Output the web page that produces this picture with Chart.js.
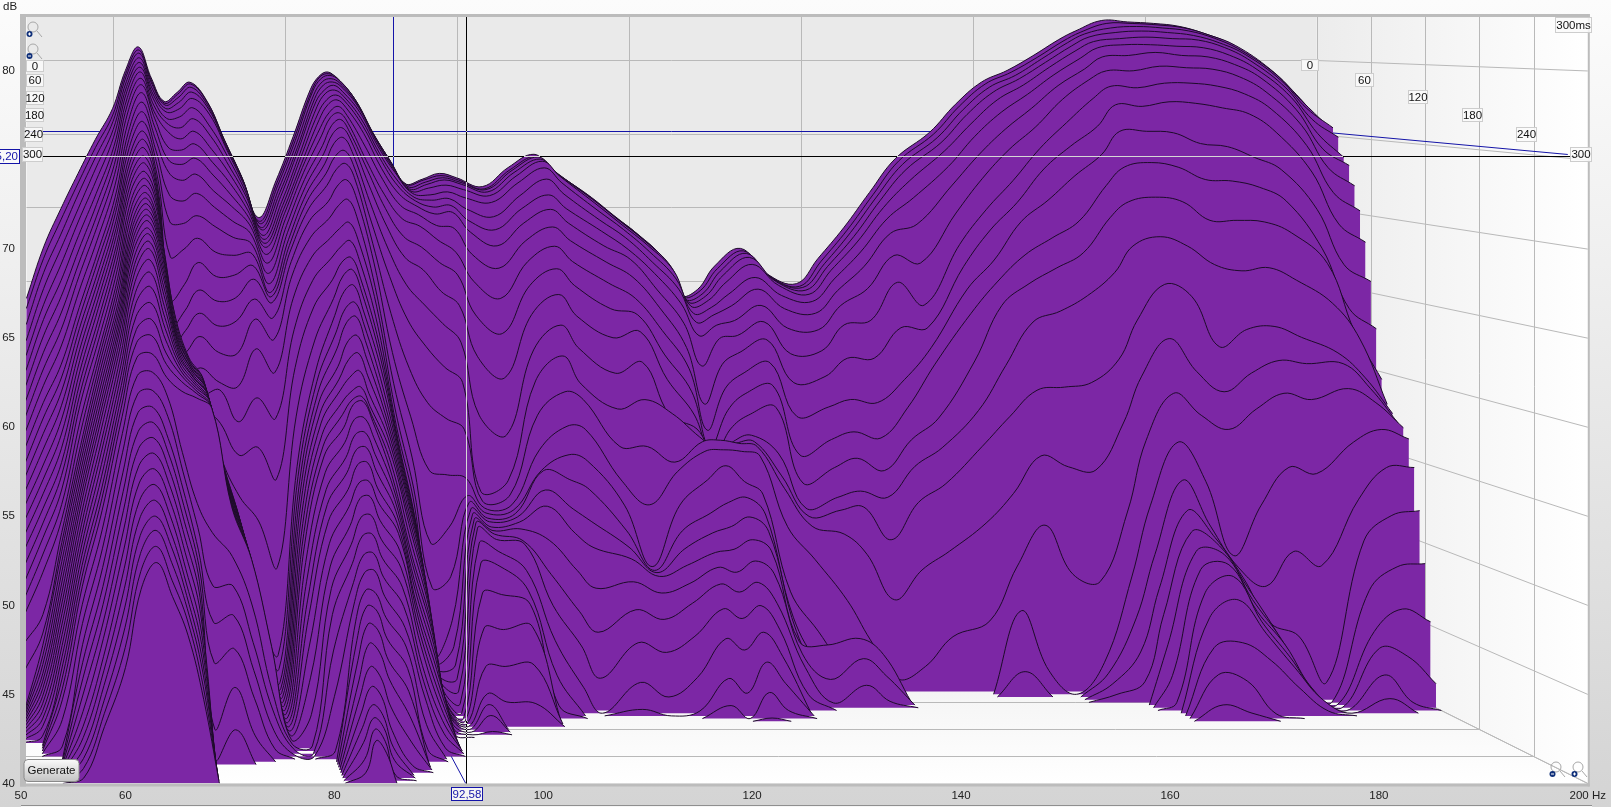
<!DOCTYPE html>
<html>
<head>
<meta charset="utf-8">
<title>Waterfall</title>
<script src="https://cdn.jsdelivr.net/npm/chart.js@4/dist/chart.umd.min.js"></script>
<style>
  html, body { margin: 0; padding: 0; overflow: hidden; background: linear-gradient(#fcfcfc, #d4d4d4); }
  canvas { display: block; }
</style>
</head>
<body>
<canvas id="chart" width="1611" height="807"></canvas>
<script>
// Frequency bands (Hz), each band has one dB value per time slice (slice 0 = 0 ms, 6 ms apart).
// A band's list stops at the slice where it has dropped to the 40 dB floor.
const bandHz = [50,52,54,56,58,60,61.5,63,64.5,66,67.5,69,71,73,75,77,79,81,83,84,85,86,88,90,92,94,96,98,100,103,106,109,111,115,118,121,124,126,128,130,133,136,139.5,142,145,148,151,155,158,161,164,167,170,172,175,178,181,184,187,190,194,197,200];
const timeStepMs = 6;
const sliceCount = 51;

const db50 = [63.8,63.2,62.2,61.2,60.3,59.4,58.5,57.6,56.7,55.8,54.9,54,53.2,52.4,51.6,50.8,50,49.2,48.3,47.4,46.5,45.6,44,42.4];
const db52 = [67.3,66.6,65.7,64.7,63.7,62.8,61.8,60.8,59.8,58.8,57.8,56.9,56,55.1,54.2,53.4,52.6,51.8,51,50.2,49.3,48.3,45.8,44.8,44.2,43.7,43.3,42.9,42.6,42.3,42,41.7,41.4,41.1,40.8,40.4];
const db54 = [69.9,69.2,68.3,67.4,66.4,65.4,64.4,63.4,62.4,61.4,60.3,59.5,58.7,57.9,57.1,56.3,55.5,54.7,54,53.2,52.4,51.6,50.9,50.4,50,49.5,49,48.5,48,47.5,47,46.5,46,45.5,45,44.5,44,43.5,43,42,40.6];
const db56 = [72.3,71.7,71,70.1,69.3,68.4,67.5,66.7,65.9,65,64,63.4,62.8,62.2,61.6,61,60.4,59.8,59.2,58.6,57.7,57,56.3,55.9,55.5,55.1,54.7,54.3,53.9,53.5,53,52.5,52,51.5,51,50.5,50,49.5,48.6,47.6,46.5,45.6,44.8,44,43.2,42.5,42,41.5,41.1,40.7,40.3];
const db58 = [74.6,74.1,73.5,72.8,72,71.2,70.5,69.8,69.1,68.3,67.5,67,66.4,65.9,65.4,64.9,64.4,63.8,63.3,62.7,62.1,61.7,61.3,60.9,60.5,60.1,59.7,59.3,58.9,58.5,58,57.4,56.9,56.3,55.7,55.1,54.6,54,53,52,51,50,49.1,48.2,47.4,46.5,45.8,45.1,44.4,43.8,43.2];
const db60 = [76.7,76.3,75.9,75.4,74.9,74.3,73.8,73.2,72.6,71.9,71.2,70.7,70.3,69.8,69.4,69,68.5,68.1,67.6,67.1,66.6,66.2,65.8,65.4,65.1,64.8,64.5,64.2,63.9,63.5,63.1,62.6,62.1,61.6,61.1,60.6,60.1,59.5,58.6,57.6,56.5,55.5,54.5,53.5,52.5,51.5,50.5,49.5,48.5,47.5,46.5];
const db61p5 = [79.3,79.1,78.9,78.6,78.3,78,77.6,77.2,76.7,76.1,75.5,75,74.5,74,73.6,73.2,72.8,72.4,72,71.5,71.1,70.7,70.3,70,69.7,69.4,69.1,68.8,68.4,68,67.6,67.1,66.5,65.9,65.2,64.5,63.8,63,62,61,60,59,58.1,57.2,56.3,55.4,54.5,53.6,52.7,51.8,50.9];
const db63 = [80.9,80.7,80.5,80.2,79.9,79.6,79.3,78.9,78.5,78,77.4,76.8,76.2,75.6,75.1,74.6,74.1,73.7,73.2,72.8,72.4,72,71.7,71.4,71.1,70.8,70.5,70.1,69.8,69.4,69,68.4,67.7,66.9,66,65.1,64.2,63.2,62.2,61.2,60.3,59.5,58.7,57.9,57.1,56.3,55.5,54.7,54,53.2,52.4];
const db64p5 = [78.8,78.6,78.4,78.1,77.8,77.5,77.1,76.7,76.3,75.7,75,74.3,73.6,72.9,72.3,71.8,71.4,71,70.6,70.3,70,69.6,69.3,69,68.7,68.4,68,67.6,67.2,66.7,66.2,65.6,65,64.4,63.8,63.1,62.5,61.8,60.8,59.7,58.5,57.7,56.9,56.1,55.3,54.5,53.7,53,52.2,51.3,50.5];
const db66 = [77.2,77.1,77,76.8,76.6,76.2,75.9,75.4,74.4,73.6,72.8,71.4,69.7,67.5,64.8,63.2,62,61,60.5,62,63.5,64.5,64.5,64.2,63.9,63.7,63.5,63.3,63.2,63,62.8,62.6,62.4,62.2,62,61.8,61.5,61,57.5,56.5,55.5,54.7,53.9,53.1,52.3,51.5,50.8,50.2,49.6,49,48.3];
const db67p5 = [77.8,77.7,77.5,77.2,76.8,76.3,75.6,74.9,74.2,73.3,72.3,71,69.6,68,65.8,64.2,63,61.7,60,60.5,61,61.5,61.8,61.7,61.7,61.6,61.6,61.5,61.5,61.4,61.3,61.3,61.2,61.1,61,60.9,60.8,60.6,54.5,53.2,52,51.2,50.4,49.6,48.8,48,47.3,46.6,46,45.3,44.7];
const db69 = [78.5,78.4,78.2,77.9,77.5,76.9,76.2,75.4,74.6,73.7,72.7,71.5,70.1,68.7,67.2,65.5,64.1,62.7,60.8,59.2,58.8,60,60.5,60.5,60.4,60.4,60.3,60.3,60.3,60.2,60.2,60.2,60.1,60.1,60.1,60,60,60,52.8,49.8,47.8,45.6,41.9,40.3];
const db71 = [77.2,77.1,76.9,76.7,76.4,75.6,75,74.2,73.4,72.6,71.6,70.6,69.4,67.8,66.3,64.8,63.3,61.7,59.9,59.5,57.5,55.5,55.5,55.4,55.3,55.2,55.1,55,54.9,54.8,54.7,54.6,54.5,54.5,54.4,54.3,54.3,54.2,51.4,49.8,48.2,46.4,44.3,42];
const db73 = [74.6,74.5,74.4,74.2,74,73.6,73.1,72.6,72,71.3,70.6,69.7,68.7,67.6,66.4,65,63.6,61.6,59.6,57.5,55.5,53,51.5,51.5,51.4,51.4,51.4,51.3,51.3,51.3,51.2,51.2,51.2,51.2,51.1,51.1,51.1,51.1,48.5,46.5,45,43.5,41.5,40];
const db75 = [72.1,72,71.9,71.8,71.6,71.3,71,70.6,70.2,69.8,69.4,68.9,68.3,67.7,67,66.2,65,63.8,62,59,56,51.5,46,46,46,46,46,46,46,46,46,46,46,46,46,46,46,46,43.5,42.5,41.5,40.6];
const db77 = [69.3,69.1,69,68.8,68.7,68.4,68.2,68,67.8,67.4,66.9,66.3,65.7,65.2,65,64.7,63.8,62.5,60.5,57.7,54,48.6,43.3,42.6,41.9,41.7,41.6,41.5,41.4,41.3,41.2,41.1,41,40.9,40.8,40.7,40.6,40.5,40.4,40.3,40.1];
const db79 = [71.8,71.7,71.6,71.4,71.2,71,70.7,70.5,70.3,70.1,69.8,69.4,69,68.6,68.3,68,67.4,66.6,65.2,63.3,61,58,55,54.5,54,53.6,53.2,52.7,52.2,51.7,51.2,50.2,49.2,48.2,47.3,45.8,44,42,40.3];
const db81 = [74.8,74.7,74.6,74.4,74.2,74.1,73.8,73.6,73.3,73.1,72.8,72.4,72,71.6,71.2,70.7,70,69,67.8,66.4,64.8,62.8,61,60.4,59.8,59.3,58.7,58.2,57.6,57,56.5,55.6,54.7,53.9,53,51.8,50.6,49.4,48,46,43.5,40.5];
const db83 = [78,77.9,77.9,77.7,77.5,77.3,77,76.6,76.2,75.7,75.2,74.6,74.1,73.5,72.9,72.2,71.2,70.2,69,67.8,66.5,65.4,64.4,63.4,62.5,61.5,60.8,60.2,59.5,58.9,58.2,57.4,56.6,55.8,54.9,54,53,52,51,50,49,48,47,46,45,44.2,43.4,42.7,42,41.2,40.6];
const db84 = [78.9,78.9,78.8,78.6,78.4,78.1,77.9,77.5,77.2,76.7,76.4,75.9,75.4,74.8,74,73.2,72.2,71,69.6,68.5,67.6,66.8,65.9,64.9,64.1,63,62,61,60.2,59.8,59.6,58.8,58,57.2,56.4,55.4,54.6,53.6,52.6,51.6,50.7,49.8,49,48.1,47.1,45.9,44.9,44,43.4,42.9,42.4];
const db85 = [79.2,79.1,79,78.8,78.6,78.4,78.1,77.8,77.5,77.1,76.7,76.3,75.8,75.2,74.4,73.6,72.6,71.4,70,68.9,67.9,67.2,66.3,65.3,64.5,63.4,62.4,61.4,60.5,60,59.8,58.9,58.1,57.3,56.5,55.5,54.7,53.7,52.7,51.7,50.8,49.6,48.7,47.7,46.6,45.3,44.3,43.4,42.8,42.2,41.7];
const db86 = [78.8,78.8,78.7,78.5,78.3,78,77.7,77.4,77,76.5,76,75.5,75,74.3,73.5,72.7,71.6,70.3,68.9,67.7,66.6,65.8,64.8,63.9,63,62,61,60,59.3,58.9,58.6,57.7,56.8,55.9,55,54.2,53.3,52.3,51.3,50.3,49.3,48.2,47.1,46,45,43.6,42.4,41.6,41,40.3];
const db88 = [77.5,77.4,77.3,77.1,76.9,76.6,76.2,75.8,75.3,74.5,73.6,73,72.1,71,69.8,68.5,67.3,65.8,64.7,63.5,62.5,61.7,60.9,60,59.2,58.5,57.9,57.3,56.7,56,55.3,54.7,54.1,53.5,52.9,52.4,51.5,50.6,49.6,48.6,47.5,46.5,45.4,44.2,42.9,41.6,40.4];
const db90 = [75.3,75.2,75.1,74.9,74.7,74.4,74,73.6,73,72.3,71.4,70.5,69.4,68,66.3,64,61.6,59.7,58.2,57.2,56.5,56,55.5,55,54.5,54,53.4,52.8,52.2,51.4,50.6,50,49.3,48.7,48,47.4,46.7,46,45,44.2,43.4,42,40.7];
const db92 = [73.4,73.3,73.2,73,72.8,72.6,72.2,71.8,71.3,70.6,69.8,68.7,67.4,65.7,63.5,60.5,57.5,55,53.2,52,51,50.6,50.2,49.8,49.4,49,48.6,48.1,47.6,47.1,46.5,46,45.4,44.8,44.2,43.6,43,42.4,41.8,41.2,40.5];
const db94 = [71.6,71.6,71.5,71.4,71.3,71.2,71,70.8,70.5,70,69.3,68,66.6,64.4,61.8,58.3,54.1,49.6,46.9,42.7,42.5,42.3,42.1,41.9,41.7,41.5,41.3,41.2,41,40.9,40.8,40.6,40.4,40.2];
const db96 = [71.9,71.9,71.8,71.7,71.5,71.1,70.8,70.4,70,69.3,68.4,67,65.2,63.2,60.5,57.3,53.8,50.6,47.6,45,43.5,42.5,41.8,41.2,40.6,40.2];
const db98 = [72.3,72.2,72.1,72,71.7,71.3,70.9,70.5,70.1,69.1,67.6,66.2,64.3,62,59.5,56.6,53.6,52.6,52.3,52,51.8,51.6,51.5,51.3,50.5,49.4,47.7,45.7,43.5,42,41.5,41,40.2];
const db100 = [72,71.9,71.8,71.7,71.4,70.9,70.2,69.5,68.8,67.4,65.7,63.6,61,57.3,52.5,52,51.7,51.5,51.3,51.2,51,50.9,50.8,50.6,50,49.2,47.6,45.6,43.5,41.5];
const db103 = [71.4,71.3,71.3,71.2,71,70.6,69.7,68.9,67.9,66.5,64.6,62.4,59.6,56,53.2,52.4,51.9,51.7,51.6,51.5,51.3,51,50.4,50.3,48.8,47.7,47,45.8,43.6,41.4];
const db106 = [72.7,72.6,72.6,72.5,72.3,71.9,71.1,70.3,69.4,68.3,67,65.5,63.7,61.5,59.6,57.5,55.4,54.2,54.3,53.2,52.3,50.3,48.3,46.5,44.5,42.5,40.8];
const db109 = [73.6,73.5,73.5,73.4,73.3,72.9,72.2,71.2,70.3,69.2,68,66.6,65,63.1,61.2,59,56.9,55.2,53.7,52,50.6,48.4,46,44,41.6];
const db111 = [72.6,72.5,72.5,72.4,72.3,71.9,71.2,70.3,69.4,68.3,67,65.5,63.6,61.6,59.4,58.5,56.7,54.8,53.1,51.2,49.7,47.3,44.7,42];
const db115 = [70.9,70.9,70.8,70.7,70.5,70.1,69.5,68.8,67.9,66.9,65.6,64,62.2,60,57.8,55.5,53.4,52,50.5,49.6,49,47.7,46.1,44.2,41.9,40.4];
const db118 = [69.5,69.5,69.4,69.3,69.1,68.8,68.3,67.6,67,65.9,64.6,63.6,62.6,60.7,58.4,55.5,51.9,48.1,48,48,47.9,47,45.5,43.6,41];
const db121 = [68.2,68.1,68,67.9,67.7,67.3,66.7,66,65,63.9,62.5,61,59.5,57.3,57.5,54.5,54,52,50.5,49.5,48.6,47.6,46.5,44.6,42.2,40.3];
const db124 = [66.5,66.4,66.3,66.2,66,65.5,64.9,64,62.8,61.3,60,58.6,57.2,56.4,56,55.8,55.3,53.6,51.6,50.5,49.4,48.6,47.7,46.3,44.6,42.3,40.8];
const db126 = [64,64,63.9,63.8,63.6,63.2,62.7,61.9,60,57.6,56,55,54.4,54.6,55.2,55.9,55.4,54.5,52.3,50.9,49.6,48.3,47.2,45.7,43.9,41.4];
const db128 = [64.4,64.4,64.3,64.2,64,63.6,63.2,62.6,61.8,60.2,58.7,57.4,56.3,55.6,55.6,55.7,55.3,53.5,52.6,51.5,50.2,49,47.8,46.5,45,43.3,41.6,40.2];
const db130 = [66,65.9,65.8,65.6,65.2,64.5,63.8,62.9,62,61,59.7,58.5,57.2,56,55.7,55.5,55,52.7,51.5,50.6,49.5,48.2,46.5,45,43.5,42,40.5];
const db133 = [67.2,67.1,67,66.8,66.4,65.6,64.9,63.9,62.9,61.8,60.4,59,57.7,54.8,53.5,52.8,50.5,46.5,45,44.3,43.8,43.2,42.5,41];
const db136 = [65.5,65.4,65.3,65.2,65,64.4,63.6,62.4,60.8,59,56.9,54.5,52.8,51.3,50.9,50.4,48.4,44,42,41.2,43.6,41.6,40.3];
const db139p5 = [64.8,64.7,64.7,64.6,64.4,64,63.3,62.3,61,59.4,57.5,55.5,53.8,52,51.3,49.9,45.8,41.2,40.6,40.4,44,42.9,41.4];
const db142 = [66.5,66.4,66.3,66.2,66,65.5,64.8,63.9,62.7,60.6,58,56,54.4,52.4,51.5,48.6,43.3,40.5,40.3,40.2,43,41.8,40.4];
const db145 = [68.6,68.5,68.4,68.2,67.9,67.3,66.4,65,63,60.6,57.8,55.6,53.6,52,49.4,45.7,40.8];
const db148 = [71,70.9,70.8,70.6,70.2,69.5,68.6,67.2,65.5,62.6,59.3,57.6,55.6,54,51.8,47.6,41.6];
const db151 = [73.3,73.2,73,72.7,72,70.9,69.2,66.7,64,62.6,61.4,60.4,57,55.2,53,48.8,43.5];
const db155 = [75.1,75,74.8,74.5,74,73,71.8,70,68,66.6,65.2,63.7,60.7,57.6,55.4,50.6,44.5];
const db158 = [77,76.9,76.7,76.4,75.8,75,73.8,72.3,70.3,69,67.1,65.8,64.3,60.5,57.3,52.5,48,45.3,41.6];
const db161 = [78.5,78.4,78.2,77.9,77.4,76.6,75.5,74.2,72.2,70.8,69.6,67.5,65.7,63.3,59,54.9,50.6,41.5];
const db164 = [79.3,79.2,79,78.8,78.4,77.8,76.9,75.7,74.3,73,71,68.6,66.7,64,59.2,54.2,47.5];
const db167 = [80.3,80.2,80.1,79.9,79.6,79.1,78.4,77.5,76,74.5,72.6,69.7,67.7,65,59.5,54,47,42,41.5,41,40.5];
const db170 = [81.4,81.3,81.2,81,80.7,80.2,79.5,78.8,77.6,75.8,74,72,70,66.5,61,57,51.5,47.5,45,43,41.3];
const db172 = [82,81.9,81.8,81.6,81.3,80.9,80.3,79.4,78.4,77.2,75.5,73.2,71,68.2,63.5,60,56,52,49,47,45.5,43.8,42,40.5];
const db175 = [82.7,82.5,82.2,81.9,81.5,81.1,80.4,79.4,78.3,77.1,75.5,73.5,71.3,68.8,65.8,62.4,59,56,53.7,51.9,50.7,49.6,48.6,47.3,45.9,44.2,42.7,41];
const db178 = [82.6,82.5,82.3,82,81.6,81.1,80.6,79.7,78.6,77.4,75.4,73.2,71,68.2,65,60.3,57.6,53.5,50.8,50.2,49.8,49.4,48.9,48.3,47,44.5,42.3,40.5];
const db181 = [82.5,82.4,82.2,81.9,81.5,81,80.4,79.6,78.6,77.3,74.7,72.4,69.8,67,61.8,59,56.7,48.8,48.2,47.7,47.2,46.6,46,45.5,44.9,43.4,40.3];
const db184 = [82.3,82.2,82,81.7,81.4,80.9,80.3,79.5,78.4,77,74.5,72.3,69.8,66.6,62.9,60.2,58,52,47,44.8,44.5,44.2,43.9,43.3,42.8,41.7];
const db187 = [81.8,81.7,81.5,81.2,80.9,80.4,79.8,79,77.9,76.6,73.8,71.9,69.7,66.8,63.1,61,59,54.4,49.2,44,41.5,41.3,41.1,40.9,40.8,40.3];
const db190 = [81.1,81,80.7,80.4,80,79.5,78.9,78,76.9,75.4,73,71,69,66,62.4,60.8,58.6,54,48.3,41.1];
const db194 = [79.5,79.4,79.1,78.7,78.2,77.6,76.8,75.8,74.5,72.8,70.4,67.9,67,64.5,61.4,60.8,59.3,56,52.5,50,47,44.6,43.7,42.2,40.9];
const db197 = [77.8,77.7,77.3,76.8,76.1,75.2,74.2,73,71.4,69.4,66.8,64,62.6,62.2,59.8,59.2,58.4,56.8,54.5,51.6,48.5,46,43.2,40.5];
const db200 = [75.7,75.7,75.6,75.5,74.9,73.6,73.1,71.8,70.2,68.2,65.7,62.7,59.5,58,57.5,57,56.8,56.2,54.5,51.9,48.7,45.2,41.5];

const bandSeries = [db50,db52,db54,db56,db58,db60,db61p5,db63,db64p5,db66,db67p5,db69,db71,db73,db75,db77,db79,db81,db83,db84,db85,db86,db88,db90,db92,db94,db96,db98,db100,db103,db106,db109,db111,db115,db118,db121,db124,db126,db128,db130,db133,db136,db139p5,db142,db145,db148,db151,db155,db158,db161,db164,db167,db170,db172,db175,db178,db181,db184,db187,db190,db194,db197,db200];

const xTicks = [50,60,80,100,120,140,160,180,200];
const timeLabels = ["0","60","120","180","240","300"];
const cursorHz = 92.58;
const cursorDb = 75.2;

const PURPLE = "#7c27a5";
const LINE = "#1d0b29";
const FLOOR_DB = 40;
const FONT = "'Liberation Sans', Arial, sans-serif";

// oblique projection: slice 0 sits on the back wall, the last slice on the front plane
function depthOf(slice) { return 1 - slice / (sliceCount - 1); }
function projX(hz, slice) {
  const d = depthOf(slice);
  return 50 + 0.525 * d + (hz - 50) * (1 - 0.1765 * d);
}
function projY(db, slice) {
  const d = depthOf(slice);
  return 40 + 7.59 * d + (db - 40) * (1 - 0.1746 * d);
}

function buildSlices() {
  const sets = [];
  // front slice first: Chart.js paints dataset 0 last, so nearer slices cover farther ones
  for (let s = sliceCount - 1; s >= 0; s--) {
    const floorY = projY(FLOOR_DB, s);
    const levels = bandHz.map((hz, b) => {
      const v = bandSeries[b][s];
      return v === undefined ? FLOOR_DB : Math.max(FLOOR_DB, v);
    });
    const pts = [];
    bandHz.forEach((hz, b) => {
      const dead = levels[b] === FLOOR_DB;
      // a second floor point right beside the edge of a hump keeps the spline from dipping under the floor
      if (dead && b > 0 && levels[b + 1] > FLOOR_DB && levels[b - 1] === FLOOR_DB) {
        pts.push({ x: projX(hz - 0.03, s), y: floorY });
      }
      pts.push({ x: projX(hz, s), y: projY(levels[b], s) });
      if (dead && levels[b - 1] > FLOOR_DB && levels[b + 1] === FLOOR_DB) {
        pts.push({ x: projX(hz + 0.03, s), y: floorY });
      }
    });
    sets.push({
      label: (s * timeStepMs) + " ms",
      data: pts,
      tension: 0.4,
      borderColor: LINE,
      borderWidth: 1,
      backgroundColor: PURPLE,
      pointRadius: 0,
      fill: { value: floorY },
      segment: {
        borderColor: ctx => (ctx.p0.parsed.y <= floorY + 0.001 && ctx.p1.parsed.y <= floorY + 0.001) ? "transparent" : undefined
      }
    });
  }
  return sets;
}

function magnifier(ctx, x, y, plus) {
  ctx.save();
  ctx.strokeStyle = "#a8a8a8";
  ctx.lineWidth = 1;
  ctx.beginPath();
  ctx.arc(x + 6, y + 5, 5, 0, Math.PI * 2);
  ctx.moveTo(x + 10, y + 9);
  ctx.lineTo(x + 15, y + 15);
  ctx.stroke();
  ctx.fillStyle = "#10307a";
  ctx.beginPath();
  ctx.arc(x + 2.5, y + 12, 3, 0, Math.PI * 2);
  ctx.fill();
  ctx.strokeStyle = "#fff";
  ctx.beginPath();
  ctx.moveTo(x + 1, y + 12);
  ctx.lineTo(x + 4, y + 12);
  if (plus) {
    ctx.moveTo(x + 2.5, y + 10.5);
    ctx.lineTo(x + 2.5, y + 13.5);
  }
  ctx.stroke();
  ctx.restore();
}

function tagBox(ctx, text, left, top, w, h, border, color) {
  ctx.fillStyle = "rgba(250,250,250,0.85)";
  ctx.fillRect(left, top, w, h);
  ctx.strokeStyle = border;
  ctx.lineWidth = 1;
  ctx.strokeRect(left + 0.5, top + 0.5, w - 1, h - 1);
  ctx.fillStyle = color;
  ctx.textAlign = "center";
  ctx.textBaseline = "middle";
  ctx.fillText(text, left + w / 2, top + h / 2 + 0.5);
}

// walls, floor and 3D grid behind the slices
const roomPlugin = {
  id: "room",
  beforeDatasetsDraw(chart) {
    const { ctx, chartArea: a, scales } = chart;
    const px = (hz, s) => scales.x.getPixelForValue(projX(hz, s));
    const py = (db, s) => scales.y.getPixelForValue(projY(db, s));
    const last = sliceCount - 1;
    ctx.save();
    ctx.fillStyle = "#ffffff";
    ctx.fillRect(a.left, a.top, a.width, a.height);
    // back wall
    ctx.fillStyle = "#eaeaea";
    ctx.fillRect(px(50, 0), a.top, px(200, 0) - px(50, 0), py(40, 0) - a.top);
    // side wall
    let g = ctx.createLinearGradient(px(200, 0), 0, a.right, 0);
    g.addColorStop(0, "#ececec");
    g.addColorStop(1, "#ffffff");
    ctx.fillStyle = g;
    ctx.beginPath();
    ctx.moveTo(px(200, 0), a.top);
    ctx.lineTo(a.right, a.top);
    ctx.lineTo(a.right, a.bottom);
    ctx.lineTo(px(200, 0), py(40, 0));
    ctx.closePath();
    ctx.fill();
    // floor
    g = ctx.createLinearGradient(0, py(40, 0), 0, a.bottom);
    g.addColorStop(0, "#f0f0f0");
    g.addColorStop(1, "#ffffff");
    ctx.fillStyle = g;
    ctx.beginPath();
    ctx.moveTo(px(50, 0), py(40, 0));
    ctx.lineTo(px(200, 0), py(40, 0));
    ctx.lineTo(a.right, a.bottom);
    ctx.lineTo(a.left, a.bottom);
    ctx.closePath();
    ctx.fill();

    ctx.strokeStyle = "#b9b9b9";
    ctx.lineWidth = 1;
    ctx.beginPath();
    for (const hz of xTicks) {
      if (hz === 50) continue;
      const x = Math.round(px(hz, 0)) + 0.5;
      ctx.moveTo(x, a.top);
      ctx.lineTo(x, py(40, 0));
    }
    for (let db = 40; db <= 80; db += 5) {
      const y = Math.round(py(db, 0)) + 0.5;
      ctx.moveTo(px(50, 0), y);
      ctx.lineTo(px(200, 0), y);
      ctx.lineTo(px(200, last), py(db, last));
    }
    for (let s = 10; s < last; s += 10) {
      const x = Math.round(px(200, s)) + 0.5;
      const y = Math.round(py(40, s)) + 0.5;
      ctx.moveTo(x, a.top);
      ctx.lineTo(x, y);
      ctx.moveTo(px(50, s), y);
      ctx.lineTo(x, y);
    }
    ctx.moveTo(px(200, 0), py(40, 0));
    ctx.lineTo(a.right, a.bottom);
    ctx.stroke();

    // blue 3D cursor, it stays behind the slices
    ctx.strokeStyle = "#1414a8";
    ctx.beginPath();
    const cy = Math.round(py(cursorDb, 0)) + 0.5;
    const cx = Math.round(px(cursorHz, 0)) + 0.5;
    ctx.moveTo(px(50, 0), cy);
    ctx.lineTo(px(200, 0), cy);
    ctx.lineTo(px(200, last) - 20, py(cursorDb, last) - 2);
    ctx.moveTo(cx, a.top);
    ctx.lineTo(cx, py(40, 0));
    ctx.lineTo(px(cursorHz, last), a.bottom);
    ctx.stroke();
    ctx.restore();
  },
  afterDatasetsDraw(chart) {
    const { ctx, chartArea: a, scales } = chart;
    const last = sliceCount - 1;
    // the black crosshair turns pale where it runs over a slice
    const y = Math.round(scales.y.getPixelForValue(projY(cursorDb, last)));
    const x = Math.round(scales.x.getPixelForValue(projX(cursorHz, last)));
    const paint = (left, top, w, h) => {
      const img = ctx.getImageData(left, top, w, h);
      const d = img.data;
      for (let i = 0; i < d.length; i += 4) {
        const over = d[i + 2] > d[i + 1] + 15 && d[i + 1] < 110;
        const c = over ? 214 : 0;
        d[i] = c; d[i + 1] = c; d[i + 2] = c; d[i + 3] = 255;
      }
      ctx.putImageData(img, left, top);
    };
    paint(Math.round(a.left), y, Math.round(a.width), 1);
    paint(x, Math.round(a.top), 1, Math.round(a.height));

    ctx.save();
    // edges of the plot box
    ctx.fillStyle = "#bcbcbc";
    ctx.fillRect(a.left - 1, a.top - 3, 6, a.height + 6);
    ctx.fillRect(a.left - 1, a.top - 3, a.width + 3, 3);
    ctx.fillRect(a.left - 1, a.bottom, a.width + 3, 3);
    ctx.fillRect(a.right, a.top - 3, 2, a.height + 6);

    ctx.font = "11.5px " + FONT;
    // time labels on the left edge and along the side wall
    const leftBoxes = [[26, 60, 18, 12], [26, 74, 18, 13], [26, 91, 18, 14], [25, 108, 19, 14], [24, 127, 19, 15], [22, 147, 21, 15]];
    const sideBoxes = [[1301, 59, 18, 12], [1355, 73, 19, 14], [1408, 90, 20, 14], [1462, 108, 21, 14], [1516, 127, 21, 15], [1570, 147, 22, 15]];
    timeLabels.forEach((t, i) => {
      tagBox(ctx, t, ...leftBoxes[i], "#cdcdcd", "#111");
      tagBox(ctx, t, ...sideBoxes[i], "#cdcdcd", "#111");
    });
    tagBox(ctx, "300ms", 1555, 17, 37, 16, "#cdcdcd", "#111");

    // cursor read-outs
    tagBox(ctx, "92,58", 451, 787, 32, 14, "#1414a8", "#1414a8");
    ctx.fillStyle = "#fafafa";
    ctx.fillRect(0, 149, 20, 15);
    ctx.strokeStyle = "#1414a8";
    ctx.strokeRect(-1.5, 149.5, 21, 14);
    ctx.fillStyle = "#1414a8";
    ctx.textAlign = "right";
    ctx.fillText("75,20", 18, 157);

    ctx.fillStyle = "#222";
    ctx.textAlign = "left";
    ctx.fillText("dB", 3, 7);

    // Generate button
    const gb = ctx.createLinearGradient(0, 759, 0, 781);
    gb.addColorStop(0, "#fbfbfb");
    gb.addColorStop(1, "#c4c4c4");
    ctx.fillStyle = gb;
    ctx.strokeStyle = "#8a8a8a";
    ctx.beginPath();
    ctx.roundRect(24, 759.5, 55, 22, 4);
    ctx.fill();
    ctx.stroke();
    ctx.fillStyle = "#111";
    ctx.textAlign = "center";
    ctx.textBaseline = "middle";
    ctx.fillText("Generate", 51.5, 771);

    magnifier(ctx, 27, 22, true);
    magnifier(ctx, 27, 44, false);
    magnifier(ctx, 1550, 762, false);
    magnifier(ctx, 1572, 762, true);

    // strip under the axis
    ctx.fillStyle = "#f6f6f6";
    ctx.fillRect(21, 805, 1571, 2);
    ctx.fillStyle = "#8f8f8f";
    ctx.fillRect(21, 805, 1571, 1);
    ctx.restore();
  }
};

new Chart(document.getElementById("chart").getContext("2d"), {
  type: "line",
  data: { datasets: buildSlices() },
  options: {
    responsive: false,
    animation: false,
    devicePixelRatio: 1,
    layout: { padding: { left: 0, right: 19, top: 17, bottom: 0 } },
    plugins: { legend: { display: false }, tooltip: { enabled: false } },
    scales: {
      x: {
        type: "linear",
        min: 50,
        max: 200,
        afterFit: scale => { scale.height = 23.5; },
        afterBuildTicks: scale => { scale.ticks = xTicks.map(v => ({ value: v })); },
        grid: { display: false, drawTicks: false },
        border: { display: false },
        ticks: {
          autoSkip: false,
          maxRotation: 0,
          padding: 5,
          color: "#222",
          font: { family: FONT, size: 11.5 },
          callback: v => (v === 200 ? "200 Hz" : String(v))
        }
      },
      y: {
        type: "linear",
        min: 40,
        max: 83.03,
        afterFit: scale => { scale.width = 21; },
        grid: { display: false, drawTicks: false },
        border: { display: false },
        ticks: {
          stepSize: 5,
          includeBounds: false,
          padding: 6,
          color: "#222",
          font: { family: FONT, size: 11.5 },
          callback: v => String(v)
        }
      }
    }
  },
  plugins: [roomPlugin]
});
</script>
</body>
</html>
